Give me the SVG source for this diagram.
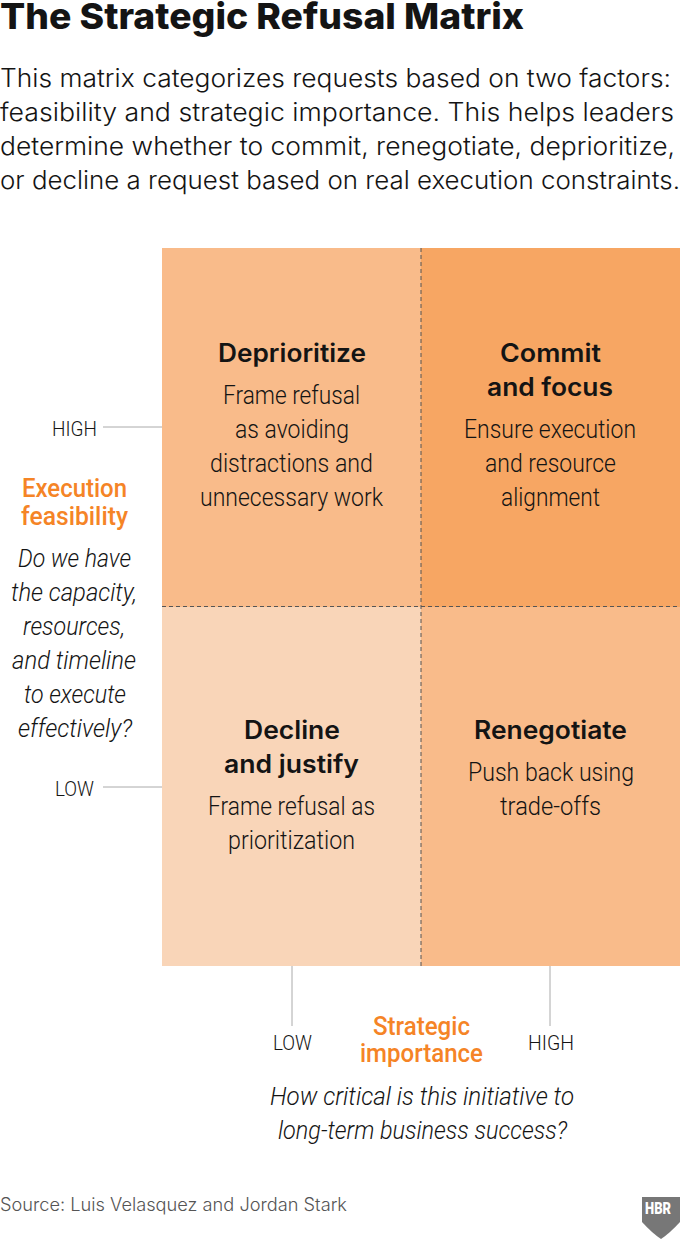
<svg xmlns="http://www.w3.org/2000/svg" width="680" height="1243" viewBox="0 0 680 1243">
<style>
text{font-family:Roboto,"Liberation Sans",sans-serif;fill:#141414;text-anchor:middle}
.t{font-size:25px;font-weight:300}
.h{font-family:Inter,"Liberation Sans",sans-serif;font-size:25px;font-weight:600}
.i{font-size:25px;font-weight:300;font-style:italic}
.o{font-size:25px;font-weight:500;fill:#f58426}
.a{font-size:21px;font-weight:300}
.p{font-family:Inter,"Liberation Sans",sans-serif;font-size:25px;font-weight:300;text-anchor:start}
.l{stroke:#aaa;stroke-width:1;fill:none}
.d{stroke:#555;stroke-width:1;stroke-dasharray:4 3;fill:none}
</style>
<rect width="680" height="1243" fill="#fff"/>
<text x="0" y="28.500" textLength="524" lengthAdjust="spacingAndGlyphs" style="font-family:Inter,'Liberation Sans',sans-serif;font-size:36px;font-weight:800;text-anchor:start">The Strategic Refusal Matrix</text>
<text class="p" x="0" y="87" textLength="671" lengthAdjust="spacingAndGlyphs">This matrix categorizes requests based on two factors:</text>
<text class="p" x="0" y="121" textLength="674" lengthAdjust="spacingAndGlyphs">feasibility and strategic importance. This helps leaders</text>
<text class="p" x="0" y="155" textLength="675" lengthAdjust="spacingAndGlyphs">determine whether to commit, renegotiate, deprioritize,</text>
<text class="p" x="0" y="189" textLength="680" lengthAdjust="spacingAndGlyphs">or decline a request based on real execution constraints.</text>
<g id="deprioritize"><rect x="162" y="248" width="259" height="359" fill="#f9bb8a"/>
<text class="h" x="292" y="362" textLength="148" lengthAdjust="spacingAndGlyphs">Deprioritize</text>
<text class="t" x="291.500" y="404" textLength="137" lengthAdjust="spacingAndGlyphs">Frame refusal</text><text class="t" x="292" y="438" textLength="114" lengthAdjust="spacingAndGlyphs">as avoiding</text><text class="t" x="291.500" y="472" textLength="163" lengthAdjust="spacingAndGlyphs">distractions and</text><text class="t" x="291.500" y="506" textLength="183" lengthAdjust="spacingAndGlyphs">unnecessary work</text></g>
<g id="commit"><rect x="421" y="248" width="259" height="359" fill="#f7a663"/>
<text class="h" x="550.500" y="362" textLength="101" lengthAdjust="spacingAndGlyphs">Commit</text><text class="h" x="550" y="396" textLength="126" lengthAdjust="spacingAndGlyphs">and focus</text>
<text class="t" x="550" y="438" textLength="172" lengthAdjust="spacingAndGlyphs">Ensure execution</text><text class="t" x="550.500" y="472" textLength="131" lengthAdjust="spacingAndGlyphs">and resource</text><text class="t" x="550.500" y="506" textLength="99" lengthAdjust="spacingAndGlyphs">alignment</text></g>
<g id="decline"><rect x="162" y="607" width="259" height="359" fill="#f9d5b8"/>
<text class="h" x="292" y="739" textLength="96" lengthAdjust="spacingAndGlyphs">Decline</text><text class="h" x="291.500" y="773" textLength="135" lengthAdjust="spacingAndGlyphs">and justify</text>
<text class="t" x="291.500" y="815" textLength="167" lengthAdjust="spacingAndGlyphs">Frame refusal as</text><text class="t" x="291.500" y="849" textLength="127" lengthAdjust="spacingAndGlyphs">prioritization</text></g>
<g id="renegotiate"><rect x="421" y="607" width="259" height="359" fill="#f9bb8a"/>
<text class="h" x="550.500" y="739" textLength="153" lengthAdjust="spacingAndGlyphs">Renegotiate</text>
<text class="t" x="551" y="781" textLength="166" lengthAdjust="spacingAndGlyphs">Push back using</text><text class="t" x="550.500" y="815" textLength="101" lengthAdjust="spacingAndGlyphs">trade-offs</text></g>
<g id="connectors">
<path class="d" d="M421 248V966M162 606.500H680"/>
<path class="l" d="M103 427H162M103 787H162M292 966V1026M550 966V1026"/>
</g>
<g id="y-axis">
<text class="a" x="74.500" y="436" textLength="45" lengthAdjust="spacingAndGlyphs">HIGH</text><text class="a" x="74.500" y="796" textLength="39" lengthAdjust="spacingAndGlyphs">LOW</text>
<text class="o" x="74.500" y="497" textLength="105" lengthAdjust="spacingAndGlyphs">Execution</text><text class="o" x="74.500" y="525" textLength="107" lengthAdjust="spacingAndGlyphs">feasibility</text>
<text class="i" x="74.500" y="567" textLength="113" lengthAdjust="spacingAndGlyphs">Do we have</text><text class="i" x="74" y="601" textLength="126" lengthAdjust="spacingAndGlyphs">the capacity,</text><text class="i" x="74" y="635" textLength="102" lengthAdjust="spacingAndGlyphs">resources,</text><text class="i" x="74" y="669" textLength="124" lengthAdjust="spacingAndGlyphs">and timeline</text><text class="i" x="75" y="703" textLength="102" lengthAdjust="spacingAndGlyphs">to execute</text><text class="i" x="75" y="737" textLength="114" lengthAdjust="spacingAndGlyphs">effectively?</text>
</g>
<g id="x-axis">
<text class="a" x="292.500" y="1050" textLength="39" lengthAdjust="spacingAndGlyphs">LOW</text><text class="a" x="551" y="1050" textLength="46" lengthAdjust="spacingAndGlyphs">HIGH</text>
<text class="o" x="421.500" y="1035" textLength="97" lengthAdjust="spacingAndGlyphs">Strategic</text><text class="o" x="421.500" y="1062" textLength="123" lengthAdjust="spacingAndGlyphs">importance</text>
<text class="i" x="422" y="1105" textLength="304" lengthAdjust="spacingAndGlyphs">How critical is this initiative to</text><text class="i" x="422.500" y="1139" textLength="289" lengthAdjust="spacingAndGlyphs">long-term business success?</text>
</g>
<text x="0" y="1211" textLength="347" lengthAdjust="spacingAndGlyphs" style="font-family:Inter,'Liberation Sans',sans-serif;font-size:18px;font-weight:300;fill:#555;text-anchor:start">Source: Luis Velasquez and Jordan Stark</text>
<g id="logo"><path d="M642 1197H680V1222Q670 1233 661 1239Q652 1233 642 1222Z" fill="#777"/>
<text x="658" y="1214" textLength="26" lengthAdjust="spacingAndGlyphs" style="font-size:17px;font-weight:900;fill:#fff">HBR</text></g>
</svg>
